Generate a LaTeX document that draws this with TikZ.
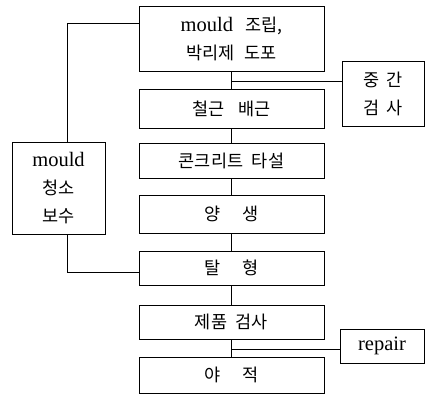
\documentclass[tikz,border=0pt]{standalone}
\usepackage{fontspec}
\setmainfont{Liberation Serif}
\newfontfamily\kr{Noto Sans CJK KR}
\newcommand{\lat}[1]{{\rmfamily\fontsize{20.5}{28}\selectfont #1}}

\tikzset{
	procbox/.style={draw, line width=0.8pt, inner sep=0pt, align=center,
		font=\kr\fontsize{17.5}{28}\selectfont},
	link/.style={line width=0.8pt}
}

\begin{document}
\begin{tikzpicture}[x=1pt, y=-1pt]
\useasboundingbox (0,0) rectangle (425,396);
% main process column
\node[procbox, minimum width=185pt, minimum height=65pt] (assemble) at (231.5,38.5) {\lat{mould}\hspace{0.7em}조립,\\박리제\hspace{0.6em}도포};
\node[procbox, minimum width=185pt, minimum height=39pt] (rebar) at (231.5,108.5) {철근\hspace{0.8em}배근};
\node[procbox, minimum width=185pt, minimum height=35pt] (pour) at (231.5,160.5) {콘크리트\hspace{0.5em}타설};
\node[procbox, minimum width=185pt, minimum height=38pt] (cure) at (231.5,214) {양\hspace{1.3em}생};
\node[procbox, minimum width=185pt, minimum height=34pt] (demould) at (231.5,268) {탈\hspace{1.3em}형};
\node[procbox, minimum width=185pt, minimum height=34pt] (inspect) at (231.5,322) {제품\hspace{0.5em}검사};
\node[procbox, minimum width=185pt, minimum height=36pt] (stock) at (231.5,375) {야\hspace{1.3em}적};
% side boxes
\node[procbox, minimum width=82pt, minimum height=65pt] (midcheck) at (383,93.5) {중\hspace{0.4em}간\\검\hspace{0.4em}사};
\node[procbox, minimum width=84pt, minimum height=34pt] (repair) at (382,346) {\lat{repair}};
\node[procbox, minimum width=93pt, minimum height=92pt] (clean) at (58.5,188) {\lat{mould}\\청소\\보수};

% junctions
\coordinate (j1) at (231.5,81);
\coordinate (j2) at (231.5,349);
\coordinate (up) at (67,23);
\coordinate (down) at (67,272);

\draw[link] (assemble) -- (rebar);
\draw[link] (rebar) -- (pour);
\draw[link] (pour) -- (cure);
\draw[link] (cure) -- (demould);
\draw[link] (demould) -- (inspect);
\draw[link] (inspect) -- (stock);
\draw[link] (j1) -- (j1 -| midcheck.west);
\draw[link] (j2) -- (j2 -| repair.west);
% mould return loop
\draw[link] (clean.north -| up) -- (up) -- (up -| assemble.west);
\draw[link] (clean.south -| down) -- (down) -- (down -| demould.west);
\end{tikzpicture}
\end{document}
